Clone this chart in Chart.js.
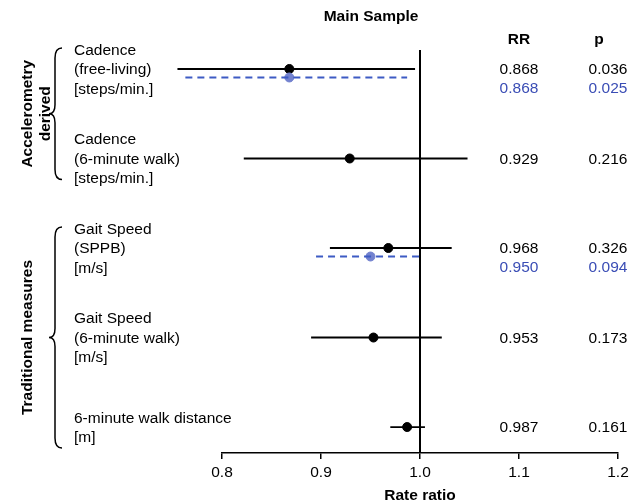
<!DOCTYPE html>
<html>
<head>
<meta charset="utf-8">
<script src="https://cdn.jsdelivr.net/npm/chart.js@4"></script>
<style>
  html, body { margin: 0; padding: 0; background: #fff; }
  canvas { display: block; }
</style>
</head>
<body>
<canvas id="forest" width="630" height="503"></canvas>
<script>
// rows, top to bottom
const rowLabels = [
  ['Cadence', '(free-living)', '[steps/min.]'],
  ['Cadence', '(6-minute walk)', '[steps/min.]'],
  ['Gait Speed', '(SPPB)', '[m/s]'],
  ['Gait Speed', '(6-minute walk)', '[m/s]'],
  ['6-minute walk distance', '[m]']
];
const rowPos = [1, 2, 3, 4, 5];

// main sample (black)
const mainRR = [0.868, 0.929, 0.968, 0.953, 0.987];
const mainLow = [0.755, 0.822, 0.909, 0.890, 0.970];
const mainHigh = [0.995, 1.048, 1.032, 1.022, 1.005];
const mainRRText = ['0.868', '0.929', '0.968', '0.953', '0.987'];
const mainPText = ['0.036', '0.216', '0.326', '0.173', '0.161'];

// second estimate (blue dashed), only for some rows
const altRows = [0, 2];
const altRR = [0.868, 0.950];
const altLow = [0.763, 0.895];
const altHigh = [0.987, 1.004];
const altRRText = ['0.868', '0.950'];
const altPText = ['0.025', '0.094'];

const groups = [
  { lines: ['Accelerometry', 'derived'], first: 0, last: 1 },
  { lines: ['Traditional measures'], first: 2, last: 4 }
];

const xTicks = [0.8, 0.9, 1.0, 1.1, 1.2];
const refValue = 1.0;
const altOffset = 0.095;

const FONT = "'Liberation Sans', Arial, sans-serif";
const BLUE_LINE = '#3d5bc4';
const BLUE_DOT = '#7382cf';
const BLUE_TEXT = '#3a4db5';

const datasets = [];
rowPos.forEach((y, i) => {
  datasets.push({
    type: 'line',
    data: [{ x: mainLow[i], y: y }, { x: mainHigh[i], y: y }],
    borderColor: '#000',
    borderWidth: 1.8,
    pointRadius: 0,
    clip: false
  });
});
altRows.forEach((r, i) => {
  const y = rowPos[r] + altOffset;
  datasets.push({
    type: 'line',
    data: [{ x: altLow[i], y: y }, { x: altHigh[i], y: y }],
    borderColor: BLUE_LINE,
    borderWidth: 1.8,
    borderDash: [7, 5],
    pointRadius: 0,
    clip: false
  });
});
datasets.push({
  type: 'scatter',
  data: altRows.map((r, i) => ({ x: altRR[i], y: rowPos[r] + altOffset })),
  backgroundColor: BLUE_DOT,
  borderColor: BLUE_DOT,
  pointRadius: 4.5,
  clip: false
});
datasets.push({
  type: 'scatter',
  data: rowPos.map((y, i) => ({ x: mainRR[i], y: y })),
  backgroundColor: '#000',
  borderColor: '#000',
  pointRadius: 4.5,
  clip: false
});

const extras = {
  id: 'extras',
  beforeDatasetsDraw(chart) {
    const { ctx, chartArea, scales: { x } } = chart;
    const px = x.getPixelForValue(refValue);
    ctx.save();
    ctx.strokeStyle = '#000';
    ctx.lineWidth = 2;
    ctx.beginPath();
    ctx.moveTo(px, chartArea.top);
    ctx.lineTo(px, chartArea.bottom);
    ctx.stroke();
    ctx.restore();
  },
  afterDraw(chart) {
    const { ctx, scales: { y } } = chart;
    ctx.save();
    ctx.textBaseline = 'middle';

    // title and column headers
    ctx.fillStyle = '#000';
    ctx.font = 'bold 15.5px ' + FONT;
    ctx.textAlign = 'center';
    ctx.fillText('Main Sample', 371, 17);
    ctx.fillText('RR', 519, 40);
    ctx.fillText('p', 599, 40);

    // row labels
    ctx.font = '15.5px ' + FONT;
    ctx.textAlign = 'left';
    rowLabels.forEach((lines, i) => {
      const cy = y.getPixelForValue(rowPos[i]) + 1;
      lines.forEach((t, k) => {
        ctx.fillText(t, 74, cy + (k - (lines.length - 1) / 2) * 19.5);
      });
    });

    // RR and p columns
    ctx.textAlign = 'center';
    rowPos.forEach((r, i) => {
      const cy = y.getPixelForValue(r) + 1;
      ctx.fillText(mainRRText[i], 519, cy);
      ctx.fillText(mainPText[i], 608, cy);
    });
    ctx.fillStyle = BLUE_TEXT;
    altRows.forEach((r, i) => {
      const cy = y.getPixelForValue(rowPos[r]) + 19.5;
      ctx.fillText(altRRText[i], 519, cy);
      ctx.fillText(altPText[i], 608, cy);
    });

    // braces and group labels
    ctx.fillStyle = '#000';
    ctx.strokeStyle = '#000';
    ctx.lineWidth = 1.5;
    groups.forEach(g => {
      const top = y.getPixelForValue(rowPos[g.first]) - 21;
      const bot = y.getPixelForValue(rowPos[g.last]) + 21;
      const mid = (top + bot) / 2;
      const xe = 62, xm = 55, xt = 49;
      ctx.beginPath();
      ctx.moveTo(xe, top);
      ctx.bezierCurveTo(57, top, xm, top + 3, xm, top + 10);
      ctx.lineTo(xm, mid - 9);
      ctx.bezierCurveTo(xm, mid - 4, 53, mid, xt, mid);
      ctx.bezierCurveTo(53, mid, xm, mid + 4, xm, mid + 9);
      ctx.lineTo(xm, bot - 10);
      ctx.bezierCurveTo(xm, bot - 3, 57, bot, xe, bot);
      ctx.stroke();

      ctx.save();
      ctx.translate(28, mid);
      ctx.rotate(-Math.PI / 2);
      ctx.font = 'bold 15.5px ' + FONT;
      ctx.textAlign = 'center';
      g.lines.forEach((t, k) => ctx.fillText(t, 0, k * 18));
      ctx.restore();
    });
    ctx.restore();
  }
};

new Chart(document.getElementById('forest'), {
  type: 'scatter',
  data: { datasets: datasets },
  options: {
    responsive: false,
    animation: false,
    devicePixelRatio: 1,
    layout: { padding: { left: 222, right: 12, top: 50, bottom: 0 } },
    plugins: { legend: { display: false }, tooltip: { enabled: false } },
    scales: {
      x: {
        type: 'linear',
        min: 0.8,
        max: 1.2,
        afterBuildTicks: s => { s.ticks = xTicks.map(v => ({ value: v })); },
        afterFit: s => { s.height = 50; s.paddingLeft = 0; s.paddingRight = 0; },
        ticks: {
          color: '#000',
          font: { family: FONT, size: 15.5 },
          padding: 4,
          maxRotation: 0,
          callback: v => v.toFixed(1)
        },
        grid: { drawOnChartArea: false, drawTicks: true, tickLength: 6, color: '#000', lineWidth: 1.5 },
        border: { display: true, color: '#000', width: 1.5 },
        title: {
          display: true,
          text: 'Rate ratio',
          color: '#000',
          font: { family: FONT, size: 15.5, weight: 'bold', lineHeight: 1 },
          padding: { top: 0, bottom: 0 }
        }
      },
      y: {
        type: 'linear',
        reverse: true,
        min: 0.788,
        max: 5.29,
        display: false
      }
    }
  },
  plugins: [extras]
});
</script>
</body>
</html>
